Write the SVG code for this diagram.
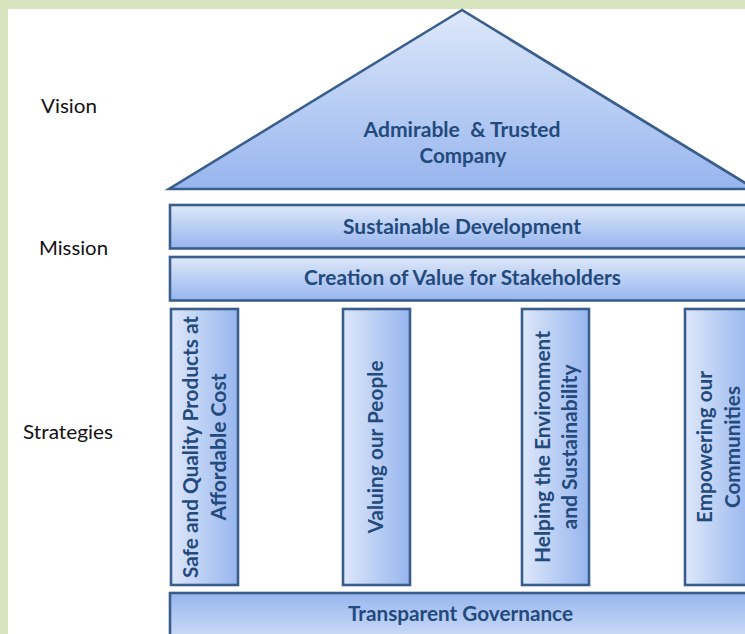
<svg xmlns="http://www.w3.org/2000/svg" width="745" height="634" viewBox="0 0 745 634">
  <defs>
    <linearGradient id="gradDown" x1="0" y1="0" x2="0" y2="1">
      <stop offset="0" stop-color="#dde8fa"/>
      <stop offset="1" stop-color="#97b5ee"/>
    </linearGradient>
    <linearGradient id="gradUp" x1="0" y1="1" x2="0" y2="0">
      <stop offset="0" stop-color="#dde8fa"/>
      <stop offset="1" stop-color="#97b5ee"/>
    </linearGradient>
    <linearGradient id="gradRight" x1="0" y1="0" x2="1" y2="0">
      <stop offset="0" stop-color="#dde8fa"/>
      <stop offset="1" stop-color="#97b5ee"/>
    </linearGradient>
    <style>
      .shape { stroke: #3a5e8c; stroke-width: 2.6; stroke-linejoin: miter; }
      .label { font-family: Lato, "Open Sans", "Noto Sans", sans-serif; font-weight: bold; font-size: 20px; fill: #234a7c; text-anchor: middle; white-space: pre; }
      .side { font-family: Lato, "Open Sans", "Noto Sans", sans-serif; font-size: 18.5px; fill: #111111; }
    </style>
  </defs>

  <!-- page frame -->
  <rect x="0" y="0" width="745" height="634" fill="#d7e4bd"/>
  <rect x="8" y="9" width="737" height="625" fill="#ffffff"/>

  <!-- row headings -->
  <g id="headings">
    <text class="side" x="41" y="113" textLength="56" lengthAdjust="spacingAndGlyphs">Vision</text>
    <text class="side" x="39" y="255" textLength="69" lengthAdjust="spacingAndGlyphs">Mission</text>
    <text class="side" x="23" y="439" textLength="90" lengthAdjust="spacingAndGlyphs">Strategies</text>
  </g>

  <!-- roof -->
  <g id="vision">
    <polygon class="shape" points="462,10 169,189 755,189" fill="url(#gradDown)"/>
    <text class="label" x="462" y="137" textLength="197" lengthAdjust="spacingAndGlyphs">Admirable  &amp; Trusted</text>
    <text class="label" x="463" y="163" textLength="87" lengthAdjust="spacingAndGlyphs">Company</text>
  </g>

  <!-- mission beams -->
  <g id="mission-sustainable">
    <rect class="shape" x="170" y="205" width="600" height="43.5" fill="url(#gradDown)"/>
    <text class="label" x="462" y="234" textLength="238" lengthAdjust="spacingAndGlyphs">Sustainable Development</text>
  </g>
  <g id="mission-value">
    <rect class="shape" x="170" y="257" width="600" height="43.5" fill="url(#gradDown)"/>
    <text class="label" x="462.5" y="285" textLength="317" lengthAdjust="spacingAndGlyphs">Creation of Value for Stakeholders</text>
  </g>

  <!-- strategy pillars -->
  <g id="pillar-products">
    <rect class="shape" x="171" y="309" width="67" height="276" fill="url(#gradRight)"/>
    <text class="label" transform="translate(198,447) rotate(-90)" textLength="262" lengthAdjust="spacingAndGlyphs">Safe and Quality Products at</text>
    <text class="label" transform="translate(226,447) rotate(-90)" textLength="147" lengthAdjust="spacingAndGlyphs">Affordable Cost</text>
  </g>
  <g id="pillar-people">
    <rect class="shape" x="343" y="309" width="67" height="276" fill="url(#gradRight)"/>
    <text class="label" transform="translate(383,447) rotate(-90)" textLength="173" lengthAdjust="spacingAndGlyphs">Valuing our People</text>
  </g>
  <g id="pillar-environment">
    <rect class="shape" x="522" y="309" width="67" height="276" fill="url(#gradRight)"/>
    <text class="label" transform="translate(550,447) rotate(-90)" textLength="232" lengthAdjust="spacingAndGlyphs">Helping the Environment</text>
    <text class="label" transform="translate(577,447) rotate(-90)" textLength="165" lengthAdjust="spacingAndGlyphs">and Sustainability</text>
  </g>
  <g id="pillar-communities">
    <rect class="shape" x="685" y="309" width="67" height="276" fill="url(#gradRight)"/>
    <text class="label" transform="translate(712,447) rotate(-90)" textLength="152" lengthAdjust="spacingAndGlyphs">Empowering our</text>
    <text class="label" transform="translate(740,447) rotate(-90)" textLength="122" lengthAdjust="spacingAndGlyphs">Communities</text>
  </g>

  <!-- foundation -->
  <g id="foundation">
    <rect class="shape" x="170" y="593" width="600" height="60" fill="url(#gradUp)"/>
    <text class="label" x="460.5" y="621" textLength="225" lengthAdjust="spacingAndGlyphs">Transparent Governance</text>
  </g>

  <!-- no connectors in this figure -->
  <g id="connectors"/>
</svg>
